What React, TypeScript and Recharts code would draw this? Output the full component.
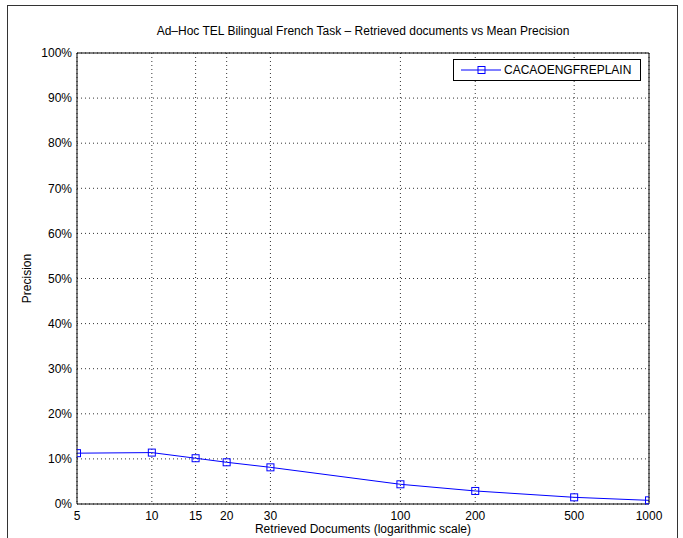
import React from 'react';
import { LineChart, Line, XAxis, YAxis, CartesianGrid, Legend } from 'recharts';

const retrievedDocs = [5, 10, 15, 20, 30, 100, 200, 500, 1000];
const meanPrecision = [11.27, 11.4, 10.15, 9.25, 8.13, 4.37, 2.89, 1.48, 0.81];
const xTicks = [5, 10, 15, 20, 30, 100, 200, 500, 1000];
const yTicks = [0, 10, 20, 30, 40, 50, 60, 70, 80, 90, 100];
const seriesName = 'CACAOENGFREPLAIN';
const chartTitle = 'Ad\u2013Hoc TEL Bilingual French Task \u2013 Retrieved documents vs Mean Precision';
const xTitle = 'Retrieved Documents (logarithmic scale)';
const yTitle = 'Precision';

const data = retrievedDocs.map((d, i) => ({ docs: d, precision: meanPrecision[i] }));

const FONT = '"Liberation Sans", Arial, Helvetica, sans-serif';
const BLUE = '#0000ff';

const SquareDot = (props: any) => {
  const { cx, cy, index } = props;
  if (cx == null || cy == null) return null;
  return (
    <rect key={`dot-${index}`} x={cx - 3.5} y={cy - 3.5} width={7} height={7} fill="none" stroke={BLUE} strokeWidth={1} />
  );
};

const LegendBox = () => (
  <div
    style={{
      width: 186,
      height: 20,
      border: '1px solid #000',
      background: '#fff',
      display: 'flex',
      alignItems: 'center',
      fontFamily: FONT,
      fontSize: 12,
      color: '#000',
      boxSizing: 'content-box',
    }}
  >
    <svg width={50} height={20} style={{ display: 'block' }}>
      <line x1={7} y1={10} x2={47} y2={10} stroke={BLUE} strokeWidth={1} />
      <rect x={24} y={6.5} width={7} height={7} fill="none" stroke={BLUE} />
    </svg>
    <span style={{ whiteSpace: 'nowrap' }}>{seriesName}</span>
  </div>
);

const YTitle = (props: any) => {
  const vb = props.viewBox || {};
  const x = vb.x + 10;
  const y = vb.y + vb.height / 2;
  return (
    <text x={x} y={y} transform={`rotate(-90 ${x} ${y})`} textAnchor="middle" dominantBaseline="central" fontFamily={FONT} fontSize={12} fill="#000">
      {yTitle}
    </text>
  );
};

export default function App() {
  return (
    <div style={{ position: 'absolute', left: 0, top: 0, width: 683, height: 538, background: '#fff', overflow: 'hidden' }}>
      <div
        style={{
          position: 'absolute',
          left: 7,
          top: 5,
          width: 669,
          height: 560,
          border: '1.5px solid #333',
        }}
      />
      <div
        style={{
          position: 'absolute',
          left: 77,
          width: 572,
          top: 24,
          lineHeight: '14px',
          textAlign: 'center',
          fontFamily: FONT,
          fontSize: 12,
          color: '#000',
          whiteSpace: 'nowrap',
        }}
      >
        {chartTitle}
      </div>
      <div style={{ position: 'absolute', left: 0, top: 0 }}>
        <LineChart width={683} height={538} data={data} margin={{ top: 53, right: 34, bottom: 4, left: 17 }}>
          <CartesianGrid stroke="#000" strokeDasharray="1 3" strokeWidth={0.8} />
          <XAxis
            dataKey="docs"
            type="number"
            scale="log"
            domain={[5, 1000]}
            allowDataOverflow
            ticks={xTicks}
            interval={0}
            height={30}
            tickLine={false}
            tickSize={0}
            tickMargin={7}
            axisLine={{ stroke: '#000', strokeWidth: 1 }}
            tick={{ fill: '#000', fontSize: 12, fontFamily: FONT }}
            label={{ value: xTitle, position: 'insideBottom', offset: 1, fill: '#000', fontSize: 12, fontFamily: FONT }}
          />
          <XAxis
            xAxisId="bottomIn"
            dataKey="docs"
            type="number"
            scale="log"
            domain={[5, 1000]}
            allowDataOverflow
            ticks={xTicks}
            interval={0}
            orientation="bottom"
            mirror
            tick={false}
            tickSize={5}
            axisLine={false}
            tickLine={{ stroke: '#000' }}
          />
          <XAxis
            xAxisId="top"
            dataKey="docs"
            type="number"
            scale="log"
            domain={[5, 1000]}
            allowDataOverflow
            ticks={xTicks}
            interval={0}
            orientation="top"
            mirror
            tick={false}
            tickSize={5}
            axisLine={{ stroke: '#000' }}
            tickLine={{ stroke: '#000' }}
          />
          <YAxis
            type="number"
            domain={[0, 100]}
            ticks={yTicks}
            interval={0}
            width={60}
            tickLine={false}
            tickSize={0}
            tickMargin={5}
            axisLine={{ stroke: '#000', strokeWidth: 1 }}
            tickFormatter={(v: number) => `${v}%`}
            tick={{ fill: '#000', fontSize: 12, fontFamily: FONT }}
            label={{ content: (p: any) => <YTitle {...p} /> }}
          />
          <YAxis
            yAxisId="leftIn"
            type="number"
            domain={[0, 100]}
            ticks={yTicks}
            interval={0}
            orientation="left"
            mirror
            tick={false}
            tickSize={5}
            axisLine={false}
            tickLine={{ stroke: '#000' }}
          />
          <YAxis
            yAxisId="right"
            type="number"
            domain={[0, 100]}
            ticks={yTicks}
            interval={0}
            orientation="right"
            mirror
            tick={false}
            tickSize={5}
            axisLine={{ stroke: '#000' }}
            tickLine={{ stroke: '#000' }}
          />
          <Legend
            layout="vertical"
            align="center"
            verticalAlign="middle"
            content={() => <LegendBox />}
            wrapperStyle={{ position: 'absolute', left: 453, top: 59, width: 188, height: 22, margin: 0, padding: 0 }}
          />
          <Line
            type="linear"
            dataKey="precision"
            name={seriesName}
            stroke={BLUE}
            strokeWidth={1}
            dot={<SquareDot />}
            activeDot={false}
            isAnimationActive={false}
          />
        </LineChart>
      </div>
    </div>
  );
}
